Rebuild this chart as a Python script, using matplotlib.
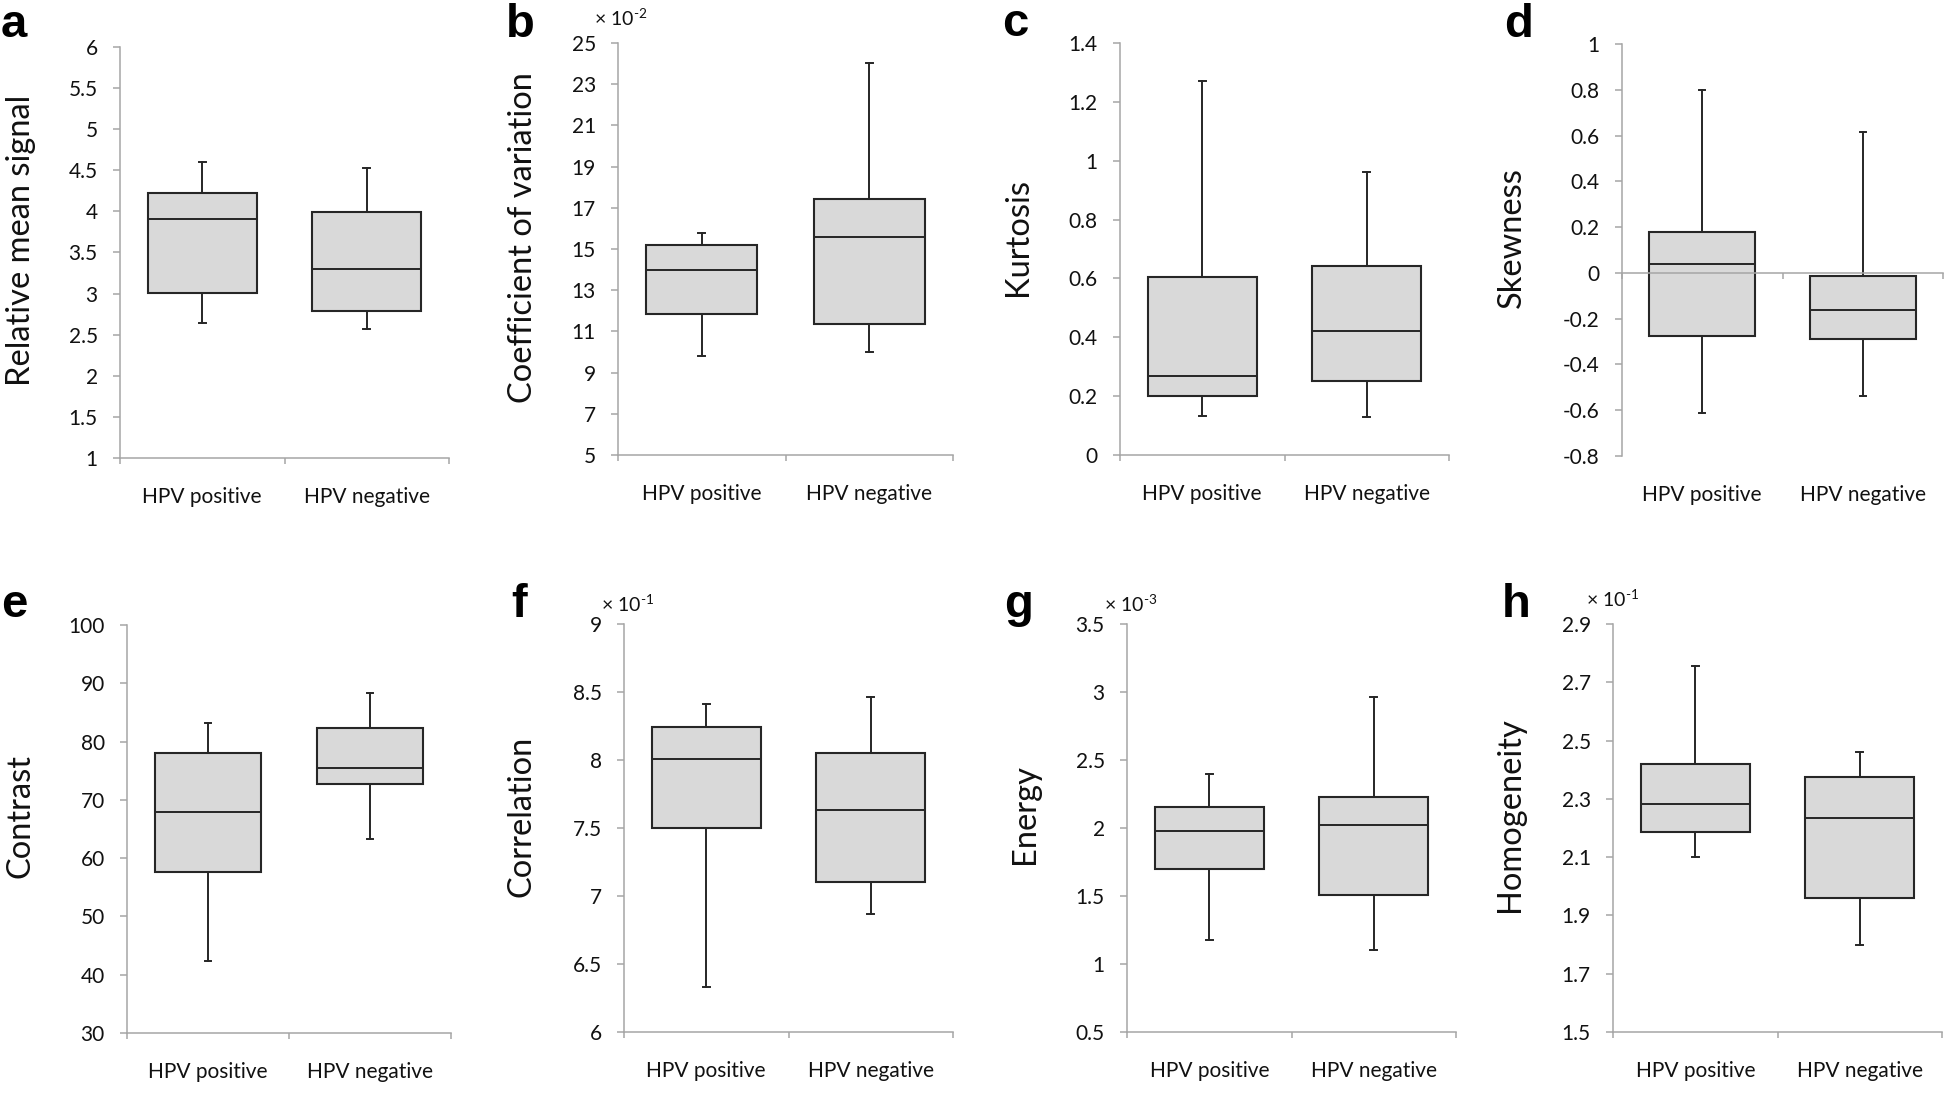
import numpy as np
import matplotlib
matplotlib.use('Agg')
import matplotlib.pyplot as plt
from matplotlib.ticker import FixedLocator, FuncFormatter

plt.rcParams['font.family'] = ['Lato', 'DejaVu Sans']
plt.rcParams['mathtext.fontset'] = 'custom'
plt.rcParams['mathtext.rm'] = 'Lato'
plt.rcParams['mathtext.it'] = 'Lato:italic'

groups = ['HPV positive', 'HPV negative']
panel_letters = ['a', 'b', 'c', 'd', 'e', 'f', 'g', 'h']
features = ['Relative mean signal', 'Coefficient of variation', 'Kurtosis', 'Skewness',
            'Contrast', 'Correlation', 'Energy', 'Homogeneity']
scale_notes = ['', r'× $\mathregular{10^{\text{-}2}}$', '', '', '',
               r'× $\mathregular{10^{\text{-}1}}$', r'× $\mathregular{10^{\text{-}3}}$',
               r'× $\mathregular{10^{\text{-}1}}$']

# box statistics (in the displayed units)
pos_low = [2.64, 9.8, 0.133, -0.61, 42.3, 6.33, 1.18, 2.10]
pos_q1 = [3.01, 11.85, 0.20, -0.275, 57.6, 7.50, 1.70, 2.185]
pos_med = [3.91, 14.0, 0.27, 0.04, 68.0, 8.01, 1.975, 2.283]
pos_q3 = [4.22, 15.2, 0.605, 0.18, 78.1, 8.245, 2.155, 2.42]
pos_high = [4.60, 15.8, 1.27, 0.80, 83.2, 8.41, 2.40, 2.755]

neg_low = [2.57, 10.0, 0.13, -0.54, 63.3, 6.865, 1.10, 1.80]
neg_q1 = [2.79, 11.35, 0.253, -0.29, 72.7, 7.10, 1.51, 1.96]
neg_med = [3.30, 15.6, 0.42, -0.16, 75.4, 7.635, 2.02, 2.235]
neg_q3 = [3.99, 17.45, 0.643, -0.013, 82.4, 8.05, 2.23, 2.375]
neg_high = [4.53, 24.05, 0.96, 0.615, 88.3, 8.46, 2.96, 2.46]

y_min = [1, 5, 0, -0.8, 30, 6, 0.5, 1.5]
y_max = [6, 25, 1.4, 1, 100, 9, 3.5, 2.9]
y_step = [0.5, 2, 0.2, 0.2, 10, 0.5, 0.5, 0.2]

# layout (pixels): axes left, top, right, bottom
W, H = 1946, 1106
rects = [(120, 47, 449, 458), (618, 43, 953, 455), (1120, 43, 1449, 455), (1622, 44, 1943, 456),
         (127, 625, 451, 1033), (624, 624, 953, 1032), (1127, 624, 1456, 1032), (1613, 624, 1942, 1032)]
letter_xy = [(1, 37), (506, 37), (1002, 36), (1504, 37), (1, 617), (511, 617), (1004, 617), (1502, 617)]
ylabel_xy = [(21, 240), (523, 238), (1018, 237), (1512, 238), (21, 816), (521, 816), (1025, 814), (1510, 815)]
note_xy = [None, (594, 26), None, None, None, (601, 612), (1104, 612), (1586, 607)]

grey = '#a6a6a6'
dark = '#262626'


def fmt(v, p):
    v = round(v, 3) + 0.0
    return f'{v:g}'


fig = plt.figure(figsize=(W / 100, H / 100), dpi=100)

for i in range(8):
    l, t, r, b = rects[i]
    ax = fig.add_axes([l / W, 1 - b / H, (r - l) / W, (b - t) / H])

    stats = [
        dict(whislo=pos_low[i], q1=pos_q1[i], med=pos_med[i], q3=pos_q3[i], whishi=pos_high[i]),
        dict(whislo=neg_low[i], q1=neg_q1[i], med=neg_med[i], q3=neg_q3[i], whishi=neg_high[i]),
    ]
    ax.bxp(stats, positions=[0.5, 1.5], widths=0.66, capwidths=0.04,
           patch_artist=True, showfliers=False, manage_ticks=False,
           boxprops=dict(facecolor='#d9d9d9', edgecolor=dark, linewidth=1.5),
           medianprops=dict(color=dark, linewidth=1.4),
           whiskerprops=dict(color=dark, linewidth=1.4),
           capprops=dict(color=dark, linewidth=1.4))

    ax.set_xlim(0, 2)
    ax.set_ylim(y_min[i], y_max[i])
    ticks = np.arange(y_min[i], y_max[i] + y_step[i] / 2, y_step[i])
    ax.yaxis.set_major_locator(FixedLocator(ticks))
    ax.yaxis.set_major_formatter(FuncFormatter(fmt))
    ax.xaxis.set_major_locator(FixedLocator([0, 1, 2]))
    ax.set_xticklabels([])

    for s in ['top', 'right']:
        ax.spines[s].set_visible(False)
    for s in ['left', 'bottom']:
        ax.spines[s].set_color(grey)
        ax.spines[s].set_linewidth(1.1)
    if y_min[i] < 0:
        ax.spines['bottom'].set_position(('data', 0))

    ax.tick_params(axis='y', length=5, width=1.1, color=grey, pad=11,
                   labelsize=15, labelcolor='#111111')
    ax.tick_params(axis='x', length=4, width=1.1, color=grey)

    for x, g in zip([0.5, 1.5], groups):
        ax.text(x, -0.095, g, transform=ax.get_xaxis_transform(),
                ha='center', va='center', fontsize=15, color='#111111')

    ax.set_ylabel(features[i], fontsize=23.5, color='#111111')
    ax.yaxis.label.set_va('center')
    lx, ly = ylabel_xy[i]
    ax.yaxis.set_label_coords((lx - l) / (r - l), (b - ly) / (b - t))

    lx, ly = letter_xy[i]
    fig.text(lx / W, 1 - ly / H, panel_letters[i], fontsize=34, fontweight='bold',
             family='Liberation Sans', ha='left', va='baseline')

    if note_xy[i] is not None:
        nx, ny = note_xy[i]
        fig.text(nx / W, 1 - ny / H, scale_notes[i], fontsize=14,
                 ha='left', va='baseline', color='#111111')

fig.savefig('out.png', dpi=100, facecolor='white')
